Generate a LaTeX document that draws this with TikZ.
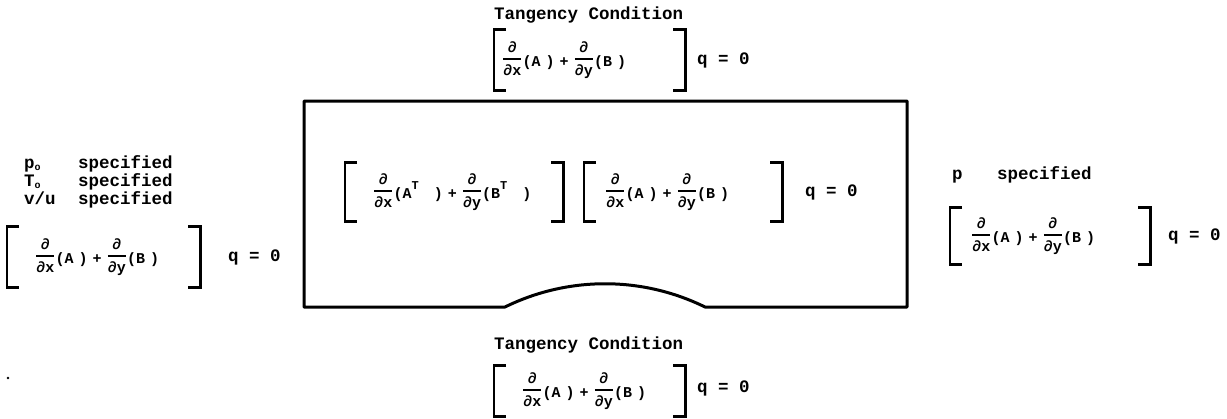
\documentclass[tikz,border=0pt]{standalone}
\usepackage{fontspec}
\setmainfont{Liberation Mono}
\usetikzlibrary{calc}
\newcommand{\lblfont}{\fontsize{17.5}{17.5}\selectfont\bfseries}
\newcommand{\eqfont}{\fontsize{15}{16}\selectfont\bfseries}
\newcommand{\pdv}[1]{\raisebox{0.3em}{$\displaystyle{\hbox{∂}\above 1.6pt\hbox{∂#1}}$}}
\newcommand{\lowo}{\raisebox{-0.15em}{\fontsize{10}{10}\selectfont o}}
\newcommand{\supT}{\raisebox{0.6em}{\fontsize{12}{12}\selectfont T}}
\newcommand{\brackets}[1]{%
  \draw[brk] ([xshift=12pt]#1.north west) -- (#1.north west) -- (#1.south west) -- ([xshift=12pt]#1.south west);
  \draw[brk] ([xshift=-12pt]#1.north east) -- (#1.north east) -- (#1.south east) -- ([xshift=-12pt]#1.south east);}
\tikzset{
  brk/.style={line width=2.8pt},
  lbl/.style={inner sep=0pt, font=\lblfont},
  eqbox/.style={anchor=west, inner sep=0pt, minimum height=#1, align=left, font=\eqfont},
  frame/.style={line width=3pt, line join=round},
}
\begin{document}
\begin{tikzpicture}[x=1pt,y=-1pt]
\useasboundingbox (0,0) rectangle (1227,418);
% top
\node[lbl, anchor=west] (tt) at (494,15) {Tangency Condition};
\node[eqbox=60pt, text width=191pt] (te) at (494,60) {\hspace*{8pt}\pdv{x}(A )\ +\ \pdv{y}(B )};
\brackets{te}
\node[lbl, anchor=west] (tq) at (697,60) {q = 0};
% left
\node[lbl, anchor=base west] (ll) at (24,168) {\begin{tabular}[t]{@{}p{54pt}@{}l@{}}p\lowo & specified\\ T\lowo & specified\\ v/u & specified\end{tabular}};
\node[eqbox=60pt, text width=193pt] (le) at (7,257) {\hspace*{28pt}\pdv{x}(A )\ +\ \pdv{y}(B )};
\brackets{le}
\node[lbl, anchor=west] (lq) at (228,257) {q = 0};
% box
\draw[frame] (304,101) -- (907,101) -- (907,307) -- (705,307)
  .. controls (642,276) and (568,276) .. (505,307) -- (304,307) -- cycle;
\node[eqbox=58pt, text width=218pt] (c1) at (345,192) {\hspace*{28pt}\pdv{x}(A\supT\ \ \ )\ +\ \pdv{y}(B\supT\ \ \ )};
\brackets{c1}
\node[eqbox=58pt, text width=198pt] (c2) at (584,192) {\hspace*{21pt}\pdv{x}(A )\ +\ \pdv{y}(B )};
\brackets{c2}
\node[lbl, anchor=west] (cq) at (805,192) {q = 0};
% right
\node[lbl, anchor=base west] (rl) at (952,179) {\begin{tabular}[t]{@{}p{45pt}@{}l@{}}p & specified\end{tabular}};
\node[eqbox=56pt, text width=200pt] (re) at (950,236) {\hspace*{21pt}\pdv{x}(A )\ +\ \pdv{y}(B )};
\brackets{re}
\node[lbl, anchor=west] (rq) at (1168,236) {q = 0};
% bottom
\node[lbl, anchor=west] (bt) at (494,345) {Tangency Condition};
\node[eqbox=50pt, text width=191pt] (be) at (494,391) {\hspace*{28pt}\pdv{x}(A )\ +\ \pdv{y}(B )};
\brackets{be}
\node[lbl, anchor=west] (bq) at (697,388) {q = 0};
% stray dot
\fill (8,378) circle (1.3);
\end{tikzpicture}
\end{document}
